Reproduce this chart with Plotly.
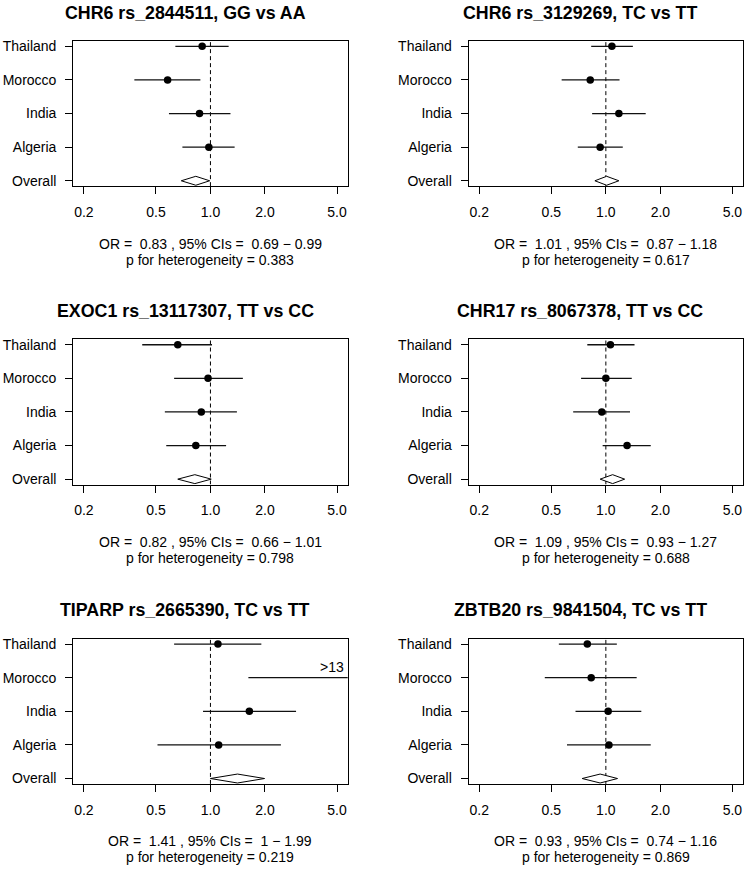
import plotly.graph_objects as go

W, H = 746, 872
FONT = "Liberation Sans, Arial, Helvetica, sans-serif"

panel_titles = [
    "CHR6 rs_2844511, GG vs AA",
    "CHR6 rs_3129269, TC vs TT",
    "EXOC1 rs_13117307, TT vs CC",
    "CHR17 rs_8067378, TT vs CC",
    "TIPARP rs_2665390, TC vs TT",
    "ZBTB20 rs_9841504, TC vs TT",
]
row_labels = ["Thailand", "Morocco", "India", "Algeria", "Overall"]
row_positions = [5, 4, 3, 2, 1]

x_tick_vals = [0.2, 0.5, 1.0, 2.0, 5.0]
x_tick_text = ["0.2", "0.5", "1.0", "2.0", "5.0"]

# per-study OR / lower / upper  (Thailand, Morocco, India, Algeria)
p1_or = [0.90, 0.58, 0.87, 0.98]
p1_lo = [0.64, 0.38, 0.59, 0.70]
p1_hi = [1.26, 0.88, 1.29, 1.36]
p2_or = [1.08, 0.82, 1.18, 0.93]
p2_lo = [0.83, 0.57, 0.84, 0.70]
p2_hi = [1.41, 1.19, 1.66, 1.24]
p3_or = [0.66, 0.97, 0.89, 0.83]
p3_lo = [0.42, 0.63, 0.56, 0.57]
p3_hi = [1.02, 1.51, 1.40, 1.22]
p4_or = [1.06, 1.00, 0.95, 1.31]
p4_lo = [0.79, 0.73, 0.66, 0.96]
p4_hi = [1.44, 1.39, 1.36, 1.77]
p5_or = [1.10, 6.4, 1.64, 1.11]
p5_lo = [0.63, 1.62, 0.91, 0.51]
p5_hi = [1.91, 13.5, 2.97, 2.45]
p6_or = [0.79, 0.83, 1.03, 1.04]
p6_lo = [0.55, 0.46, 0.68, 0.61]
p6_hi = [1.15, 1.48, 1.57, 1.77]

overall_or = [0.83, 1.01, 0.82, 1.09, 1.41, 0.93]
overall_lo = [0.69, 0.87, 0.66, 0.93, 1.00, 0.74]
overall_hi = [0.99, 1.18, 1.01, 1.27, 1.99, 1.16]
het_p = ["0.383", "0.617", "0.798", "0.688", "0.219", "0.869"]

truncated_panel = 5
truncated_row = 4
truncated_text = ">13"

study_or = [p1_or, p2_or, p3_or, p4_or, p5_or, p6_or]
study_lo = [p1_lo, p2_lo, p3_lo, p4_lo, p5_lo, p6_lo]
study_hi = [p1_hi, p2_hi, p3_hi, p4_hi, p5_hi, p6_hi]

# ---- layout geometry (pixels) ----
col_box = [(73.2, 347.7), (468.6, 743.1)]
row_box = [(38.2, 184.2), (338.3, 484.3), (639.4, 785.4)]
title_y = [10.5, 309.5, 610.5]
title_x = [185, 580]
or_line_y = [242.5, 542.5, 842.5]
p_line_y = [258, 558.5, 859]
X_RANGE = [-0.758, 0.758]
Y_RANGE = [0.84, 5.16]
DIAMOND_H = 0.133


def px_x(v):
    return v / W


def px_y(v):
    return 1 - v / H


def fmt(v):
    return f"{v:g}"


fig = go.Figure()
annotations = []
layout_axes = {}

for i in range(6):
    c, r = i % 2, i // 2
    n = i + 1
    xa = "x" if n == 1 else f"x{n}"
    ya = "y" if n == 1 else f"y{n}"
    xkey = "xaxis" if n == 1 else f"xaxis{n}"
    ykey = "yaxis" if n == 1 else f"yaxis{n}"

    # reference line at OR = 1
    fig.add_trace(go.Scatter(
        x=[1, 1], y=Y_RANGE, mode="lines",
        line=dict(color="black", width=1, dash="4px,3px"),
        xaxis=xa, yaxis=ya, showlegend=False, hoverinfo="skip"))

    # confidence intervals
    cx, cy = [], []
    for k in range(4):
        cx += [study_lo[i][k], study_hi[i][k], None]
        cy += [row_positions[k], row_positions[k], None]
    fig.add_trace(go.Scatter(
        x=cx, y=cy, mode="lines", line=dict(color="#111111", width=1.3),
        xaxis=xa, yaxis=ya, showlegend=False, connectgaps=False))

    # point estimates
    fig.add_trace(go.Scatter(
        x=study_or[i], y=row_positions[:4], mode="markers",
        marker=dict(color="black", size=7.5, symbol="circle"),
        xaxis=xa, yaxis=ya, showlegend=False))

    # overall diamond
    yo = row_positions[4]
    fig.add_trace(go.Scatter(
        x=[overall_lo[i], overall_or[i], overall_hi[i], overall_or[i], overall_lo[i]],
        y=[yo, yo + DIAMOND_H, yo, yo - DIAMOND_H, yo],
        mode="lines", fill="toself", fillcolor="white",
        line=dict(color="black", width=1),
        xaxis=xa, yaxis=ya, showlegend=False))

    x0, x1 = col_box[c]
    yt, yb = row_box[r]
    layout_axes[xkey] = dict(
        domain=[px_x(x0), px_x(x1)], anchor=ya, type="log", range=X_RANGE,
        tickvals=x_tick_vals, ticktext=x_tick_text, ticks="outside", ticklen=7,
        tickwidth=1, tickcolor="black", showline=True, mirror=True,
        linecolor="black", linewidth=1, showgrid=False, zeroline=False,
        tickfont=dict(family=FONT, size=14, color="black"),
        ticklabelstandoff=6, fixedrange=True)
    layout_axes[ykey] = dict(
        domain=[px_y(yb), px_y(yt)], anchor=xa, range=Y_RANGE,
        tickvals=row_positions, ticktext=row_labels, ticks="outside", ticklen=7,
        tickwidth=1, tickcolor="black", showline=True, mirror=True,
        linecolor="black", linewidth=1, showgrid=False, zeroline=False,
        tickfont=dict(family=FONT, size=14, color="black"),
        ticklabelstandoff=6, fixedrange=True)

    center_x = (x0 + x1) / 2
    annotations.append(dict(
        x=px_x(title_x[c]), y=px_y(title_y[r]), xref="paper", yref="paper",
        text=f"<b>{panel_titles[i]}</b>", showarrow=False, xanchor="center",
        yanchor="middle", font=dict(family=FONT, size=17.8, color="black")))
    or_text = (f"OR =\u00a0 {fmt(overall_or[i])} , 95% CIs =\u00a0 "
               f"{fmt(overall_lo[i])} \u2212 {fmt(overall_hi[i])}")
    annotations.append(dict(
        x=px_x(center_x), y=px_y(or_line_y[r]), xref="paper", yref="paper",
        text=or_text, showarrow=False, xanchor="center", yanchor="middle",
        font=dict(family=FONT, size=14, color="black")))
    annotations.append(dict(
        x=px_x(center_x), y=px_y(p_line_y[r]), xref="paper", yref="paper",
        text=f"p for heterogeneity = {het_p[i]}", showarrow=False,
        xanchor="center", yanchor="middle",
        font=dict(family=FONT, size=14, color="black")))

    if n == truncated_panel:
        annotations.append(dict(
            x=0.995, y=truncated_row, xref=f"{xa} domain", yref=ya,
            text=truncated_text, showarrow=False, xanchor="right",
            yanchor="middle", yshift=11,
            font=dict(family=FONT, size=14, color="black")))

fig.update_layout(
    width=W, height=H, margin=dict(l=0, r=0, t=0, b=0),
    paper_bgcolor="white", plot_bgcolor="white",
    annotations=annotations, showlegend=False, hovermode=False,
    font=dict(family=FONT, size=14, color="black"),
    **layout_axes)

fig.write_html("out.html",
               config={"displayModeBar": False, "staticPlot": True},
               post_script="document.body.style.margin='0px';")
